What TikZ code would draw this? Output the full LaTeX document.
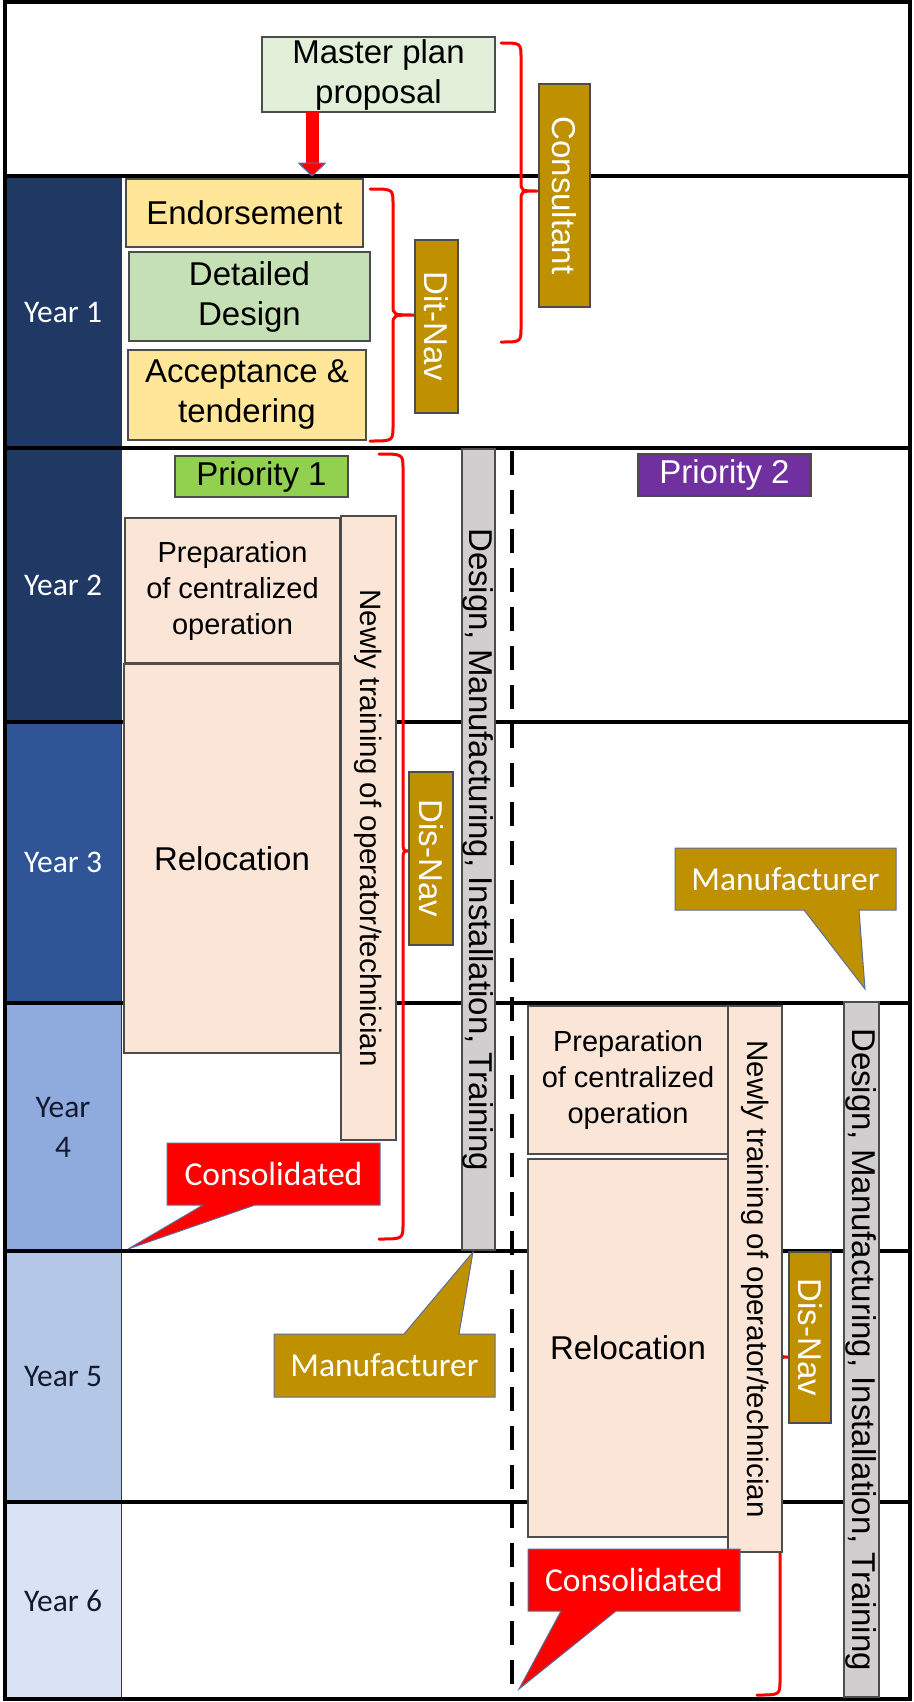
\documentclass[tikz,border=0pt]{standalone}
\usepackage{fontspec}
\setmainfont{Liberation Sans}
\newfontfamily\calfont{Carlito}
\usetikzlibrary{calc}
\definecolor{gold}{HTML}{BF9000}
\definecolor{mpgreen}{HTML}{E2F0D9}
\definecolor{yel}{HTML}{FFE699}
\definecolor{dgreen}{HTML}{C5E0B4}
\definecolor{pone}{HTML}{92D050}
\definecolor{ptwo}{HTML}{7030A0}
\definecolor{peach}{HTML}{FBE5D6}
\definecolor{gbar}{HTML}{D0CECE}
\definecolor{yca}{HTML}{1F3864}
\definecolor{ycb}{HTML}{203864}
\definecolor{ycc}{HTML}{2F5597}
\definecolor{ycd}{HTML}{8FAADC}
\definecolor{yce}{HTML}{B4C7E7}
\definecolor{ycf}{HTML}{DAE3F3}
\definecolor{calloutline}{HTML}{5B6E9B}
\definecolor{arrowline}{HTML}{4472C4}
\definecolor{darktext}{HTML}{141A2E}
\begin{document}
\begin{tikzpicture}[x=1pt,y=-1pt,
  bx/.style={draw=black!70, line width=1.3pt, inner sep=0pt, outer sep=0pt, align=center},
  big/.style={font=\fontsize{33}{40}\selectfont},
  mid/.style={font=\fontsize{29}{36}\selectfont},
  trn/.style={font=\fontsize{29.5}{36}\selectfont},
  rot/.style={rotate=-90, inner sep=0pt, outer sep=0pt},
  yc/.style={draw=black!80, line width=1pt, inner sep=0pt, outer sep=0pt, minimum width=116pt, align=center, font=\calfont\fontsize{31.5}{40}\selectfont},
  rowline/.style={line width=3.6pt, black},
  bracestyle/.style={draw=red, line width=3pt, line cap=round, line join=round},
  callfill/.style={draw=calloutline, line width=1pt},
  calltext/.style={inner sep=0pt, text=white, font=\calfont\fontsize{33.5}{40}\selectfont}
]
\useasboundingbox (0,0) rectangle (913,1702);
\fill[white] (0,0) rectangle (913,1702);

% year columns
\node[yc, fill=yca, text=white, minimum height=272pt] (yr1) at (63,312) {Year 1};
\node[yc, fill=ycb, text=white, minimum height=274pt] (yr2) at (63,585) {Year 2};
\node[yc, fill=ycc, text=white, minimum height=281pt] (yr3) at (63,862.5) {Year 3};
\node[yc, fill=ycd, text=darktext, minimum height=248pt] (yr4) at (63,1127) {Year\\4};
\node[yc, fill=yce, text=darktext, minimum height=251pt] (yr5) at (63,1376.5) {Year 5};
\node[yc, fill=ycf, text=darktext, minimum height=197pt] (yr6) at (63,1600.5) {Year 6};

% row lines
\foreach \yy in {176,448,722,1003,1251,1502} {
  \draw[rowline] (5,\yy) -- (910,\yy);
}
% frame
\draw[line width=4pt] (5,2) rectangle (910,1699);

% dashed divider
\coordinate (dashtop) at (512,451);
\coordinate (dashbot) at (512,1684);
\draw[line width=4pt, dash pattern=on 24pt off 15pt] (dashtop) -- (dashbot);

% braces
\draw[bracestyle] (501,43) .. controls (521,43) .. (521,58) -- (521,181) .. controls (521,191) .. (537,191)
   .. controls (521,191) .. (521,201) -- (521,327) .. controls (521,342) .. (501,342);
\draw[bracestyle] (370,189) .. controls (393,189) .. (393,204) -- (393,305) .. controls (393,315) .. (415,315)
   .. controls (393,315) .. (393,325) -- (393,426) .. controls (393,441) .. (370,441);
\draw[bracestyle] (379,454) .. controls (403,454) .. (403,469) -- (403,841) .. controls (403,851) .. (410,851)
   .. controls (403,851) .. (403,861) -- (403,1224) .. controls (403,1239) .. (379,1239);
\draw[bracestyle] (757,1019) .. controls (780,1019) .. (780,1034) -- (780,1347) .. controls (780,1357) .. (789,1357)
   .. controls (780,1357) .. (780,1367) -- (780,1680) .. controls (780,1695) .. (757,1695);

% top boxes
\node[bx, big, fill=mpgreen, minimum width=233pt, minimum height=75pt] (master) at (378.5,74.5) {Master plan\\proposal};
\node[bx, big, fill=gold, minimum width=51pt, minimum height=223pt] (consult) at (564.5,195.5) {};
\node[rot, big, text=white] at (consult) {Consultant};

% year 1 boxes
\node[bx, big, fill=yel, minimum width=237pt, minimum height=68pt] (endorse) at (244.5,213) {Endorsement};
\node[bx, big, fill=dgreen, minimum width=241pt, minimum height=89pt] (detail) at (249.5,296.5) {Detailed\\Design};
\node[bx, big, fill=yel, minimum width=238pt, minimum height=90pt] (accept) at (247,395) {Acceptance \&\\tendering};
\node[bx, fill=gold, minimum width=43pt, minimum height=173pt] (ditnav) at (436.5,326.5) {};
\node[rot, big, text=white] at (ditnav) {Dit-Nav};

% arrow master -> endorsement
\coordinate (arrx) at (312,0);
\coordinate (atop) at (master.south -| arrx);
\coordinate (abot) at (endorse.north -| arrx);
\fill[red] ($(atop)+(-6.5,0)$) rectangle ($(abot)+(6.5,-16)$);
\filldraw[fill=red, draw=arrowline, line width=1pt, line join=round]
  ($(abot)+(-13.5,-16)$) -- ($(abot)+(13.5,-16)$) -- ($(abot)+(0,-3)$) -- cycle;

% priorities
\node[bx, big, fill=pone, minimum width=173pt, minimum height=41pt] (prio1) at (261.5,476.5) {Priority 1};
\node[bx, big, fill=ptwo, text=white, minimum width=173pt, minimum height=42pt] (prio2) at (724.5,475) {Priority 2};

% priority 1 column
\node[bx, mid, fill=peach, minimum width=215pt, minimum height=145pt] (prepL) at (232.5,590.5) {Preparation\\of centralized\\operation};
\node[bx, big, fill=peach, minimum width=216pt, minimum height=389pt] (relocL) at (232,858.5) {Relocation};
\node[bx, fill=peach, minimum width=55pt, minimum height=624pt] (trainL) at (368.5,828) {};
\node[rot, trn] at (trainL) {Newly training of operator/technician};
\node[bx, fill=gold, minimum width=44pt, minimum height=173pt] (disnavL) at (431,858.5) {};
\node[rot, big, text=white] at (disnavL) {Dis-Nav};
\node[bx, fill=gbar, minimum width=33pt, minimum height=801pt] (grayL) at (478.5,849.5) {};
\node[rot, big] at (grayL) {Design, Manufacturing, Installation, Training};

% priority 2 column
\node[bx, mid, fill=peach, minimum width=200pt, minimum height=148pt] (prepR) at (628,1080) {Preparation\\of centralized\\operation};
\node[bx, big, fill=peach, minimum width=200pt, minimum height=378pt] (relocR) at (628,1348) {Relocation};
\node[bx, fill=peach, minimum width=54pt, minimum height=546pt] (trainR) at (755,1279) {};
\node[rot, trn] at (trainR) {Newly training of operator/technician};
\node[bx, fill=gold, minimum width=42pt, minimum height=171pt] (disnavR) at (810,1337.5) {};
\node[rot, big, text=white] at (disnavR) {Dis-Nav};
\node[bx, fill=gbar, minimum width=35pt, minimum height=695pt] (grayR) at (861.5,1349.5) {};
\node[rot, big] at (grayR) {Design, Manufacturing, Installation, Training};

% callouts
\filldraw[callfill, fill=red] (167,1143) -- (380,1143) -- (380,1205) -- (255,1205) -- (128,1249) -- (203,1205) -- (167,1205) -- cycle;
\node[calltext] (consL) at (273.5,1174) {Consolidated};
\filldraw[callfill, fill=red] (528,1549) -- (740,1549) -- (740,1611) -- (616,1611) -- (519,1689) -- (561,1611) -- (528,1611) -- cycle;
\node[calltext] (consR) at (634,1580) {Consolidated};
\filldraw[callfill, fill=gold] (675,848) -- (896,848) -- (896,910) -- (859,910) -- (865,989) -- (804,910) -- (675,910) -- cycle;
\node[calltext] (manR) at (785.5,879) {Manufacturer};
\filldraw[callfill, fill=gold] (274,1334) -- (404,1334) -- (473,1252) -- (459,1334) -- (495,1334) -- (495,1397) -- (274,1397) -- cycle;
\node[calltext] (manM) at (384.5,1365.5) {Manufacturer};
\end{tikzpicture}
\end{document}
